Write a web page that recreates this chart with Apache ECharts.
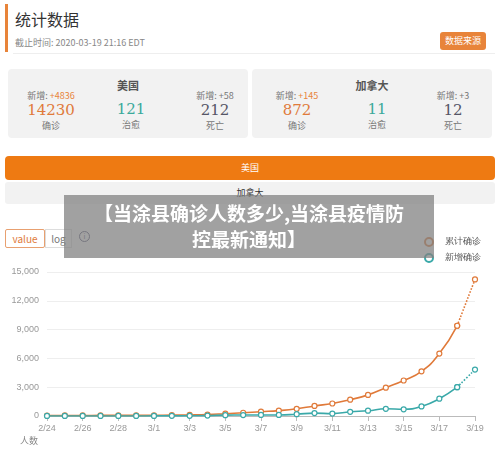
<!DOCTYPE html><html><head><meta charset="utf-8">
<script src="https://cdn.jsdelivr.net/npm/echarts@6/dist/echarts.min.js"></script>
<style>
body{margin:0;width:500px;height:454px;background:#fff;font-family:"Noto Sans CJK SC","Noto Sans",sans-serif;position:relative;overflow:hidden}
.a{position:absolute}
.box{position:absolute;top:69px;height:69px;width:240px;background:#f2f2f2;border-radius:4px;color:#666}
.box .t{position:absolute;top:8px;width:100%;text-align:center;font-size:11px;font-weight:bold;color:#555}
.c{position:absolute;text-align:center;width:70px}
.n{font-family:"DejaVu Serif",serif;font-size:15px;line-height:17px}
.s{font-size:9px;color:#777}
.p{font-size:9px;color:#777}
</style></head><body>
<div class="a" style="left:5px;top:4px;width:3px;height:48px;background:#e8843a"></div>
<div class="a" style="left:15px;top:7px;font-size:16px;color:#333">统计数据</div>
<div class="a" style="left:15px;top:36px;font-size:9px;color:#888">截止时间: 2020-03-19 21:16 EDT</div>
<div class="a" style="left:13px;top:53px;width:482px;height:1px;background:#eee"></div>
<div class="a" style="left:440px;top:32px;width:46px;height:18px;background:#e8843a;border-radius:3px;color:#fff;font-size:9px;line-height:18px;text-align:center">数据来源</div>
<div class="box" style="left:8px"><div class="t">美国</div>
<div class="c" style="left:8px;top:20px"><div class="p">新增: <span style="color:#e8843a">+4836</span></div><div class="n" style="color:#e07a3a">14230</div><div class="s">确诊</div></div>
<div class="c" style="left:88px;top:32px"><div class="n" style="color:#3aa99a">121</div><div class="s">治愈</div></div>
<div class="c" style="left:172px;top:20px"><div class="p">新增: +58</div><div class="n" style="color:#556">212</div><div class="s">死亡</div></div></div>
<div class="box" style="left:252px"><div class="t">加拿大</div>
<div class="c" style="left:10px;top:20px"><div class="p">新增: <span style="color:#e8843a">+145</span></div><div class="n" style="color:#e07a3a">872</div><div class="s">确诊</div></div>
<div class="c" style="left:90px;top:32px"><div class="n" style="color:#3aa99a">11</div><div class="s">治愈</div></div>
<div class="c" style="left:166px;top:20px"><div class="p">新增: +3</div><div class="n" style="color:#556">12</div><div class="s">死亡</div></div></div>
<div class="a" style="left:5px;top:156px;width:490px;height:24px;background:#ee7a12;border-radius:4px;color:#fff;font-size:9px;line-height:24px;text-align:center">美国</div>
<div class="a" style="left:5px;top:182px;width:490px;height:22px;background:#f2f2f2;border-radius:3px;color:#333;font-size:9px;line-height:22px;text-align:center">加拿大</div>
<div class="a" style="left:5px;top:229px;width:38px;height:17px;border:1px solid #e8a070;color:#e07a3a;font-size:10px;line-height:17px;text-align:center;border-radius:2px">value</div>
<div class="a" style="left:45px;top:229px;width:25px;height:17px;border:1px solid #ddd;color:#777;font-size:10px;line-height:17px;text-align:center">log</div>
<div class="a" style="left:79px;top:231px;width:9px;height:9px;border:1.5px solid #557;border-radius:50%;color:#557;font-size:7px;line-height:9px;text-align:center">i</div>
<div id="ch" class="a" style="left:0;top:226px;width:500px;height:228px"></div>
<div class="a" style="left:20px;top:434px;font-size:9px;color:#888">人数</div>
<div class="a" style="left:64px;top:195px;width:370px;height:63px;background:rgba(130,130,130,0.75);color:#fff;font-size:19px;font-weight:bold;text-align:center;line-height:26px;padding-top:5px;box-sizing:border-box;z-index:5">【当涂县确诊人数多少,当涂县疫情防<br>控最新通知】</div>
<script>
const dates=['2/24','2/25','2/26','2/27','2/28','2/29','3/1','3/2','3/3','3/4','3/5','3/6','3/7','3/8','3/9','3/10','3/11','3/12','3/13','3/14','3/15','3/16','3/17','3/18','3/19'];
const total=[50,55,58,60,62,65,75,90,110,150,240,340,450,560,750,1050,1300,1700,2200,2950,3700,4650,6500,9400,14230];
const added=[5,5,5,5,5,5,10,15,20,40,90,100,110,110,190,300,250,440,550,750,700,1000,1800,3000,4836];
const tickLabels=['0','3,000','6,000','9,000','12,000','15,000'];
const O='#e07a3a',T='#3aa9a9';
function split(arr,solid){return arr.map((v,i)=>solid?(i<arr.length-1?v:null):(i>=arr.length-2?v:null));}
const mk=(name,c,data,dash)=>({name,type:'line',smooth:true,data,symbol:'circle',symbolSize:5,connectNulls:false,
 itemStyle:{color:'#fff',borderColor:c,borderWidth:1.2},lineStyle:{color:c,width:1.6,type:dash?'dotted':'solid'},z:dash?1:2});
const ch=echarts.init(document.getElementById('ch'));
ch.setOption({animation:false,
 legend:{right:14,top:6,orient:'vertical',itemGap:6,itemWidth:22,itemHeight:8,textStyle:{fontSize:9,color:'#555'},
  data:[{name:'累计确诊',icon:'emptyCircle',itemStyle:{color:O}},{name:'新增确诊',icon:'emptyCircle',itemStyle:{color:T}}]},
 grid:{left:47,right:25,top:46,bottom:38,containLabel:false},
 xAxis:{type:'category',data:dates,boundaryGap:false,
  axisLine:{lineStyle:{color:'#bbb'}},axisTick:{alignWithLabel:true,interval:1,lineStyle:{color:'#bbb'}},
  axisLabel:{interval:1,fontSize:9,color:'#999'}},
 yAxis:{type:'value',min:0,max:15000,interval:3000,axisLabel:{fontSize:9,color:'#999',formatter:v=>tickLabels[v/3000]},
  splitLine:{lineStyle:{color:'#eee'}},axisLine:{show:false},axisTick:{show:false}},
 series:[mk('累计确诊',O,split(total,true)),mk('累计确诊',O,split(total,false),true),
  mk('新增确诊',T,split(added,true)),mk('新增确诊',T,split(added,false),true)]
});
</script></body></html>
